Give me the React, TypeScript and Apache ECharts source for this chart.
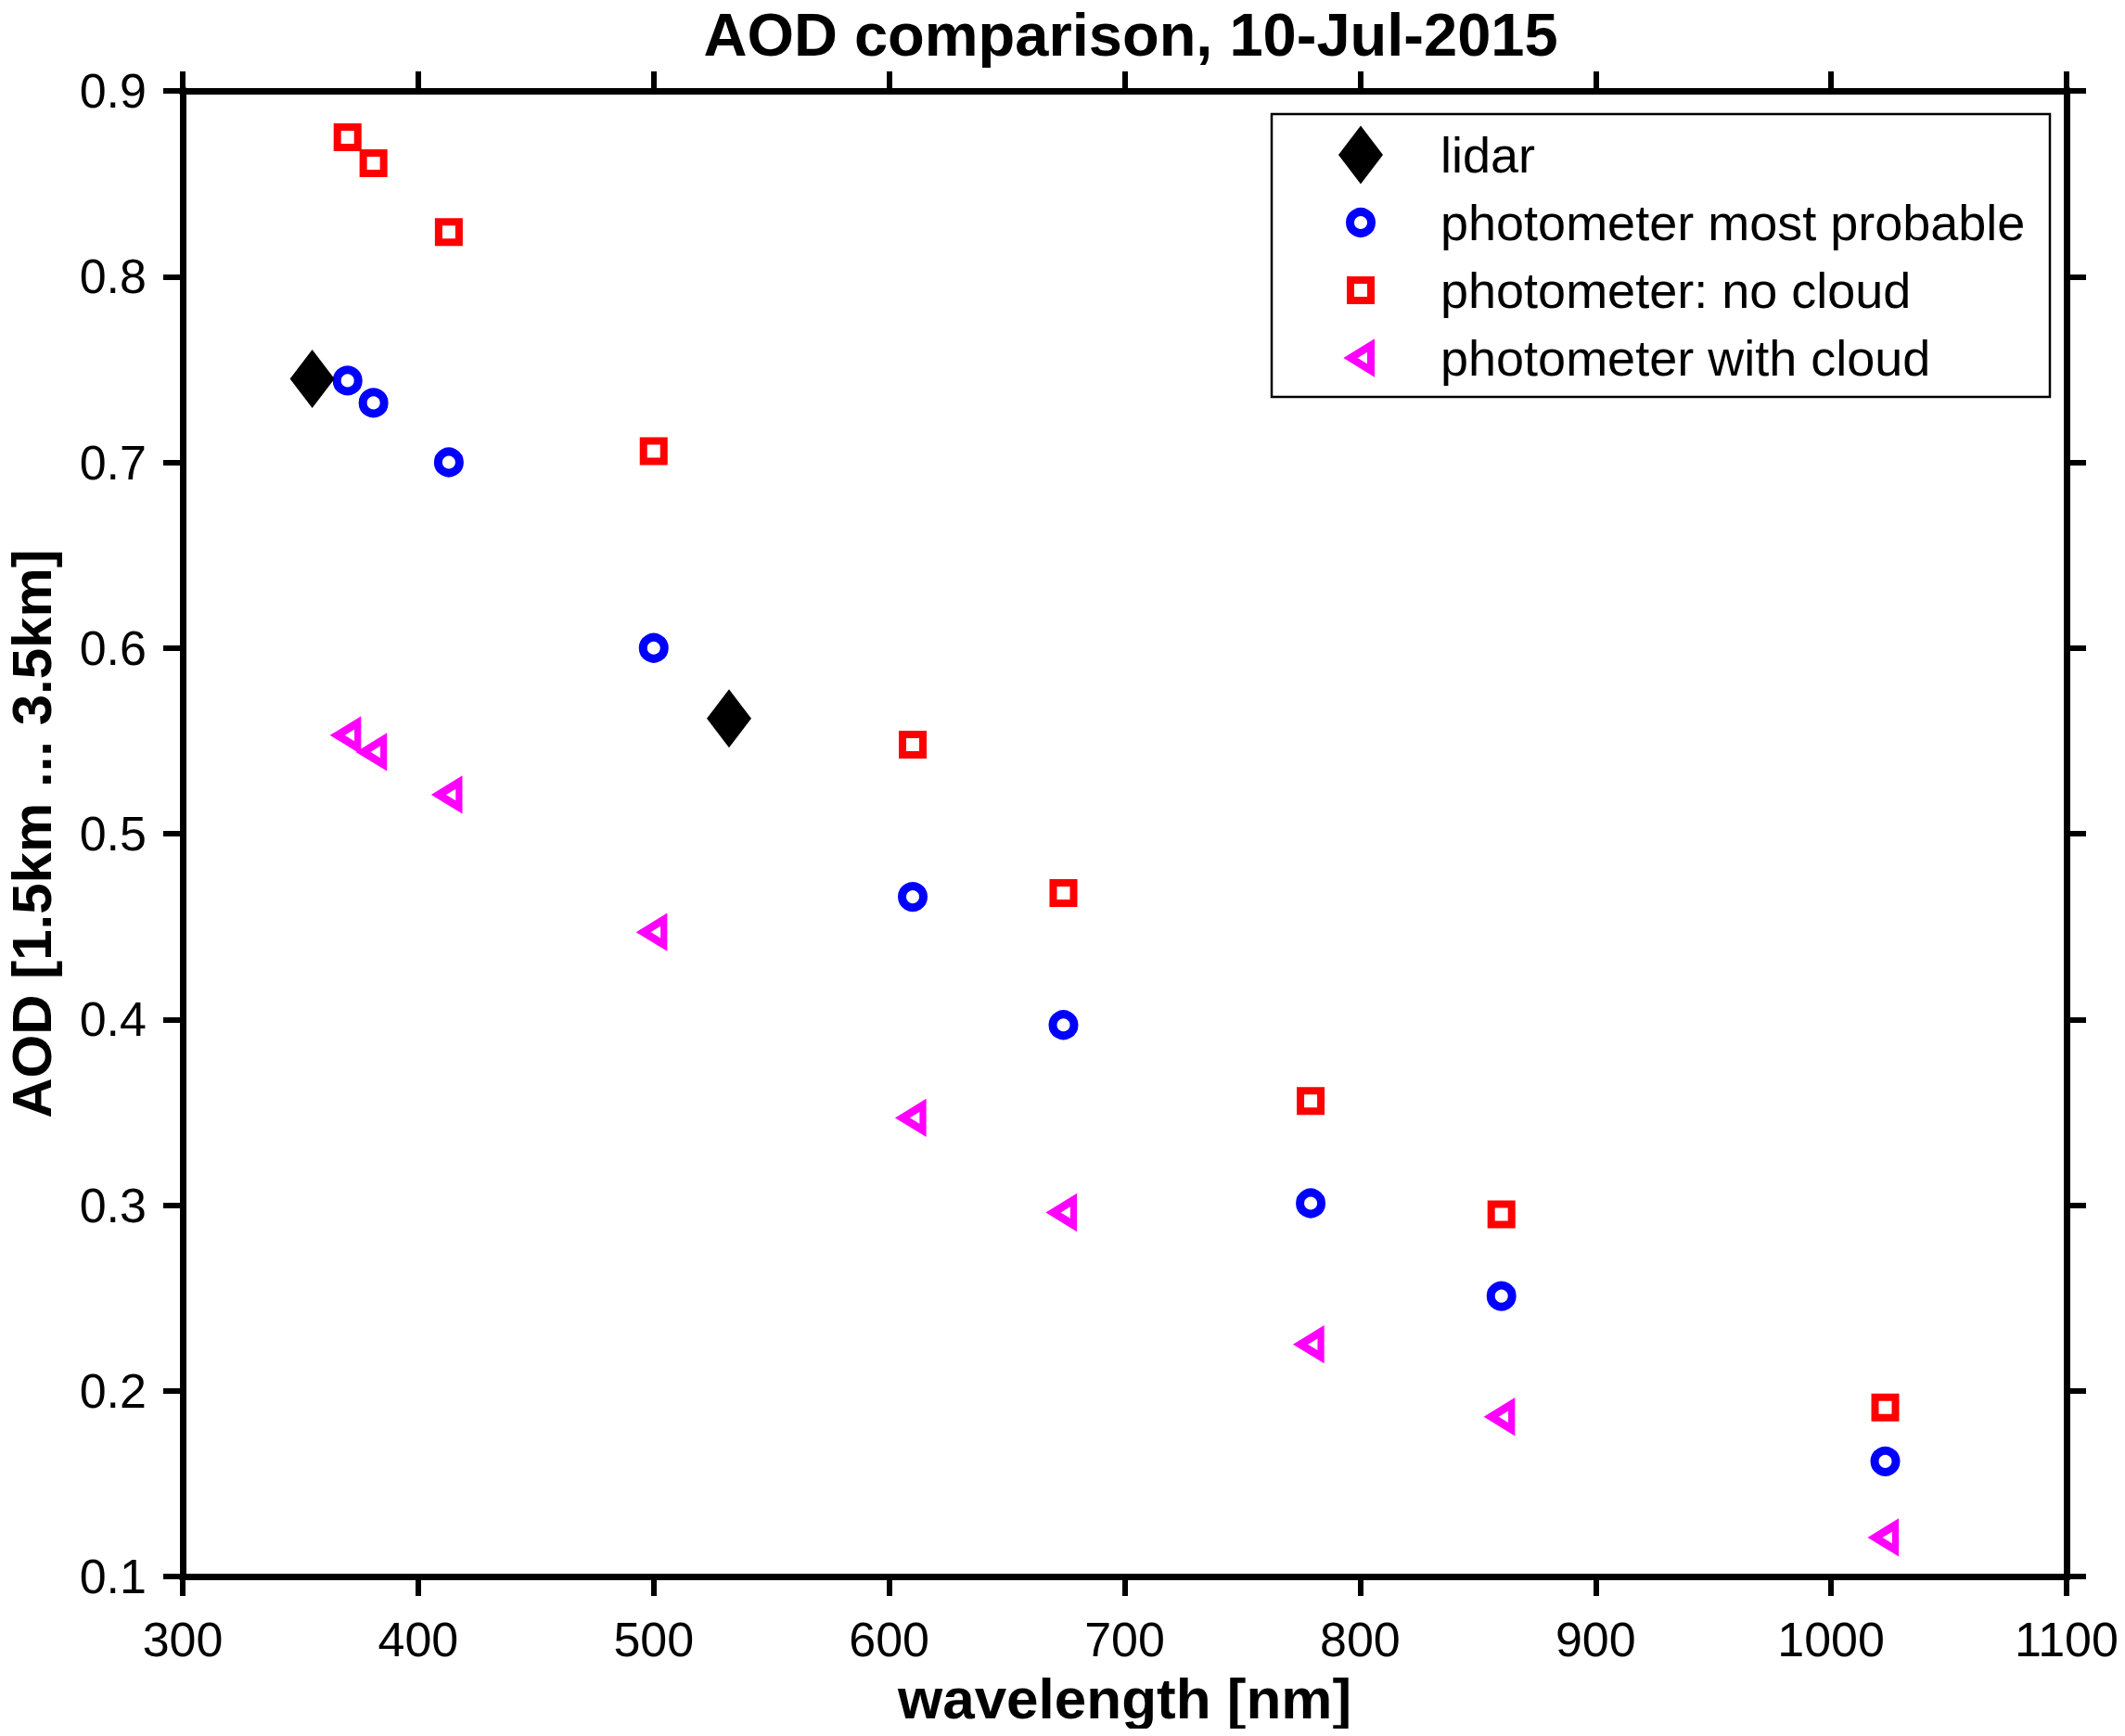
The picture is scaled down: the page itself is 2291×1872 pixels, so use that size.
import React, { useEffect, useRef } from 'react';
import * as echarts from 'echarts';

// wavelengths of the photometer channels [nm]
const wavelengths = [370, 381, 413, 500, 610, 674, 779, 860, 1023];
// lidar wavelengths [nm] and AOD
const lidarWavelengths = [355, 532];
const lidarAod = [0.745, 0.562];
// photometer AOD between 1.5 and 3.5 km
const mostProbable = [0.744, 0.732, 0.7, 0.6, 0.466, 0.397, 0.301, 0.251, 0.162];
const noCloud = [0.875, 0.861, 0.824, 0.706, 0.548, 0.468, 0.356, 0.295, 0.191];
const withCloud = [0.553, 0.544, 0.521, 0.447, 0.347, 0.296, 0.225, 0.186, 0.121];

const seriesNames = ['lidar', 'photometer most probable', 'photometer: no cloud', 'photometer with cloud'];

const X_MIN = 300, X_MAX = 1100, X_STEP = 100;
const Y_MIN = 0.1, Y_MAX = 0.9, Y_STEP = 0.1;

const FONT = 'Liberation Sans, Arial, Helvetica, sans-serif';

const DIAMOND = 'path://M24,0 L48,31.5 L24,63 L0,31.5 Z';
const SQUARE = 'path://M0,0 L22,0 L22,22 L0,22 Z';
const TRI_LEFT = 'path://M0,13.5 L22,0 L22,27 Z';

const pairs = (xs: number[], ys: number[]) => xs.map((x, i) => [x, ys[i]]);

export default function App() {
  const ref = useRef<HTMLDivElement>(null);

  useEffect(() => {
    if (!ref.current) return;
    const chart = echarts.init(ref.current, null, { renderer: 'svg' });

    const axisLine = { show: true, lineStyle: { color: '#000', width: 7, cap: 'square' } };
    const axisTick = { show: true, inside: false, length: 21, lineStyle: { color: '#000', width: 6 } };

    // legend icons are centred at x = 1467, text starts 86px to the right of that
    const legendItem = (name: string, left: number, top: number, h: number, bw?: number) => ({
      data: [name],
      orient: 'vertical',
      left,
      top,
      padding: 0,
      itemWidth: 162,
      itemHeight: h,
      selectedMode: false,
      itemStyle: bw ? { borderWidth: bw } : {},
      textStyle: { fontSize: 54, color: '#000', fontFamily: FONT, lineHeight: h },
    });

    chart.setOption({
      animation: false,
      backgroundColor: '#fff',
      title: {
        text: 'AOD comparison, 10-Jul-2015',
        left: 1219,
        top: 37,
        textAlign: 'center',
        textVerticalAlign: 'middle',
        padding: 0,
        textStyle: { fontSize: 65, fontWeight: 'bold', color: '#000', fontFamily: FONT, lineHeight: 44 },
      },
      grid: { left: 197, top: 98, right: 63, bottom: 172, containLabel: false, outerBoundsMode: 'none' },
      xAxis: [
        {
          type: 'value', position: 'bottom', min: X_MIN, max: X_MAX, interval: X_STEP,
          name: 'wavelength [nm]', nameLocation: 'middle', nameGap: 100,
          nameTextStyle: { fontSize: 62, fontWeight: 'bold', color: '#000', fontFamily: FONT },
          axisLine, axisTick, splitLine: { show: false },
          axisLabel: { fontSize: 52, color: '#000', fontFamily: FONT, margin: 42, formatter: (v: number) => String(v) },
        },
        {
          type: 'value', position: 'top', min: X_MIN, max: X_MAX, interval: X_STEP,
          axisLine, axisTick, splitLine: { show: false }, axisLabel: { show: false },
        },
      ],
      yAxis: [
        {
          type: 'value', position: 'left', min: Y_MIN, max: Y_MAX, interval: Y_STEP,
          name: 'AOD [1.5km ... 3.5km]', nameLocation: 'middle', nameGap: 138,
          nameTextStyle: { fontSize: 60, fontWeight: 'bold', color: '#000', fontFamily: FONT, lineHeight: 50 },
          axisLine, axisTick, splitLine: { show: false },
          axisLabel: { fontSize: 52, color: '#000', fontFamily: FONT, margin: 39, formatter: (v: number) => v.toFixed(1) },
        },
        {
          type: 'value', position: 'right', min: Y_MIN, max: Y_MAX, interval: Y_STEP,
          axisLine, axisTick, splitLine: { show: false }, axisLabel: { show: false },
        },
      ],
      legend: [
        legendItem(seriesNames[0], 1443, 135.5, 63),
        legendItem(seriesNames[1], 1451, 213, 23, 9),
        legendItem(seriesNames[2], 1452, 286, 22, 8),
        legendItem(seriesNames[3], 1452, 359, 27, 8),
      ],
      graphic: [
        {
          type: 'rect',
          shape: { x: 1371, y: 123, width: 839, height: 305 },
          style: { fill: 'none', stroke: '#000', lineWidth: 2.5 },
          silent: true,
        },
      ],
      series: [
        {
          name: seriesNames[1], type: 'scatter', data: pairs(wavelengths, mostProbable),
          symbol: 'circle', symbolSize: 23,
          itemStyle: { color: 'rgba(0,0,0,0)', borderColor: '#0000ff', borderWidth: 9, opacity: 1 },
        },
        {
          name: seriesNames[2], type: 'scatter', data: pairs(wavelengths, noCloud),
          symbol: SQUARE, symbolSize: 22,
          itemStyle: { color: 'rgba(0,0,0,0)', borderColor: '#ff0000', borderWidth: 8, opacity: 1 },
        },
        {
          name: seriesNames[3], type: 'scatter', data: pairs(wavelengths, withCloud),
          symbol: TRI_LEFT, symbolSize: [22, 27],
          itemStyle: { color: 'rgba(0,0,0,0)', borderColor: '#ff00ff', borderWidth: 8, opacity: 1 },
        },
        {
          name: seriesNames[0], type: 'scatter', data: pairs(lidarWavelengths, lidarAod),
          symbol: DIAMOND, symbolSize: [48, 63],
          itemStyle: { color: '#000', opacity: 1 },
        },
      ],
    });

    return () => chart.dispose();
  }, []);

  // negative margin cancels the body's default 8px margin so the chart covers the whole window
  return <div ref={ref} style={{ width: '2291px', height: '1872px', margin: '-8px' }} />;
}
